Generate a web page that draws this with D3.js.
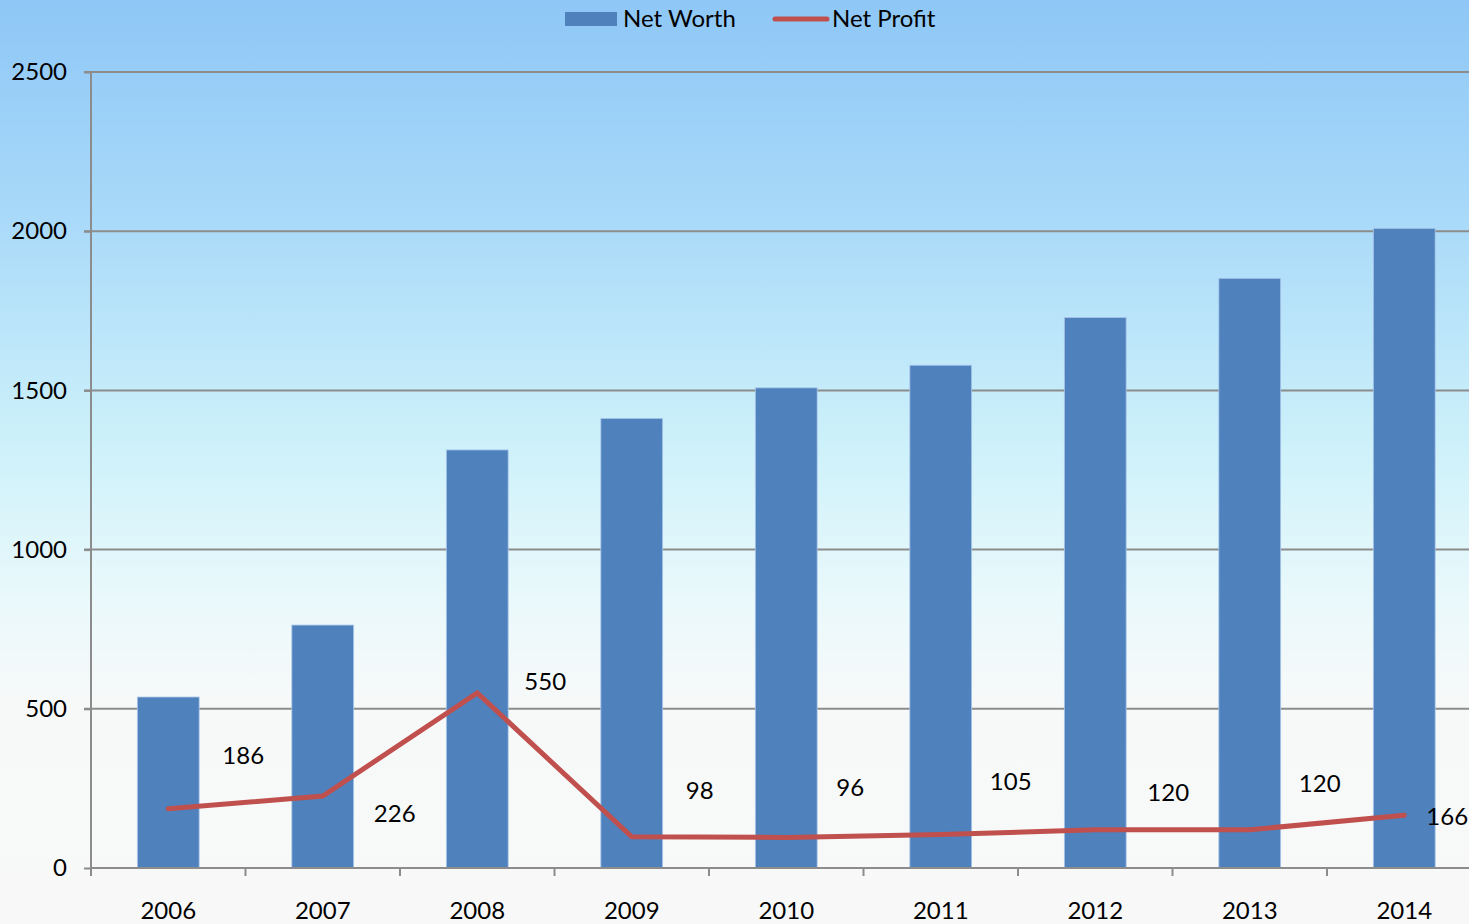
<!DOCTYPE html>
<html>
<head>
<meta charset="utf-8">
<script src="https://cdn.jsdelivr.net/npm/d3@7"></script>
<style>
  html, body { margin: 0; padding: 0; overflow: hidden; }
  text { font-family: Lato, "Open Sans", sans-serif; }
</style>
</head>
<body>
<div id="chart-area"></div>
<script>
const years = ["2006", "2007", "2008", "2009", "2010", "2011", "2012", "2013", "2014"];
const netWorth = [537, 763, 1313, 1412, 1508, 1579, 1729, 1852, 2009];
const netProfit = [186, 226, 550, 98, 96, 105, 120, 120, 166];
const yTicks = [0, 500, 1000, 1500, 2000, 2500];
// label nudges (dx, dy) the way the original placed them
const labelDx = [75, 72, 68, 68, 64, 70, 73, 70, 43];
const labelDy = [-53, 18, -11, -46, -49, -53, -37, -46, 2];

let W = 1469, H = 924;
let margin = { left: 91, top: 72, bottom: 56 };
let plotH = H - margin.top - margin.bottom;
let bandStep = 154.5;

let svg = d3.select("#chart-area")
  .append("svg")
    .attr("width", W)
    .attr("height", H);

// background gradient
let grad = svg.append("defs").append("linearGradient")
    .attr("id", "bg")
    .attr("x1", 0).attr("y1", 0).attr("x2", 0).attr("y2", 1);
[["0", "#8ec7f6"], ["0.22", "#a7d8f9"], ["0.48", "#cdf1fa"], ["0.65", "#eaf9fb"], ["0.76", "#f7f9f9"], ["1", "#f8f8f8"]]
  .forEach(s => grad.append("stop").attr("offset", s[0]).attr("stop-color", s[1]));
svg.append("rect").attr("width", W).attr("height", H).attr("fill", "url(#bg)");

let x = d3.scaleBand()
    .domain(years)
    .range([margin.left, margin.left + bandStep * years.length])
    .paddingInner(0.6)
    .paddingOuter(0.3);

let y = d3.scaleLinear()
    .domain([0, 2500])
    .range([margin.top + plotH, margin.top]);

// gridlines
svg.append("g")
  .selectAll("line")
  .data(yTicks.filter(d => d > 0))
  .enter().append("line")
    .attr("x1", margin.left - 7)
    .attr("x2", W)
    .attr("y1", d => y(d))
    .attr("y2", d => y(d))
    .attr("stroke", "#8c8c8c")
    .attr("stroke-width", 2);

// bars
svg.append("g")
  .selectAll("rect")
  .data(netWorth)
  .enter().append("rect")
    .attr("x", (d, i) => x(years[i]))
    .attr("y", d => y(d))
    .attr("width", x.bandwidth())
    .attr("height", d => y(0) - y(d))
    .attr("fill", "#4f81bd")
    .attr("stroke", "#a9c6ea")
    .attr("stroke-width", 0.8);

// y axis
let yAxis = svg.append("g")
    .attr("transform", `translate(${margin.left}, 0)`)
    .call(d3.axisLeft(y).tickValues(yTicks).tickFormat(d3.format("d")).tickSize(7).tickPadding(17));
yAxis.select(".domain").attr("stroke", "#8c8c8c").attr("stroke-width", 2).attr("d", `M0,${y(0)}V${y(2500)}`);
yAxis.selectAll(".tick line").attr("stroke", "#8c8c8c").attr("stroke-width", 2);
yAxis.selectAll("text")
    .attr("font-size", "24px")
    .attr("fill", "#000")
    .style("font-family", "Lato, sans-serif");

// x axis with ticks between categories
let xAxis = svg.append("g")
    .attr("transform", `translate(0, ${y(0)})`);
xAxis.append("line")
    .attr("x1", margin.left).attr("x2", W)
    .attr("stroke", "#8c8c8c").attr("stroke-width", 2);
xAxis.selectAll(".sep")
  .data(d3.range(years.length + 1))
  .enter().append("line")
    .attr("class", "sep")
    .attr("x1", i => margin.left + i * bandStep)
    .attr("x2", i => margin.left + i * bandStep)
    .attr("y1", 0).attr("y2", 8)
    .attr("stroke", "#8c8c8c").attr("stroke-width", 2);
xAxis.selectAll(".lbl")
  .data(years)
  .enter().append("text")
    .attr("class", "lbl")
    .attr("x", d => x(d) + x.bandwidth() / 2)
    .attr("y", 51)
    .attr("text-anchor", "middle")
    .attr("font-size", "24px")
    .text(d => d);

// profit line
let cx = i => x(years[i]) + x.bandwidth() / 2;
let line = d3.line()
    .x((d, i) => cx(i))
    .y(d => y(d));
svg.append("path")
    .datum(netProfit)
    .attr("d", line)
    .attr("fill", "none")
    .attr("stroke", "#c0504d")
    .attr("stroke-width", 5)
    .attr("stroke-linecap", "round")
    .attr("stroke-linejoin", "miter");

svg.append("g")
  .selectAll("text")
  .data(netProfit)
  .enter().append("text")
    .attr("x", (d, i) => cx(i) + labelDx[i])
    .attr("y", (d, i) => y(d) + labelDy[i] + 8)
    .attr("text-anchor", "middle")
    .attr("font-size", "24px")
    .text(d => d);

// legend
let legend = svg.append("g");
legend.append("rect")
    .attr("x", 565).attr("y", 12).attr("width", 52).attr("height", 14)
    .attr("fill", "#4f81bd");
legend.append("text")
    .attr("x", 623).attr("y", 27).attr("font-size", "24px")
    .text("Net Worth");
legend.append("line")
    .attr("x1", 775).attr("x2", 827).attr("y1", 19).attr("y2", 19)
    .attr("stroke", "#c0504d").attr("stroke-width", 5).attr("stroke-linecap", "round");
legend.append("text")
    .attr("x", 832).attr("y", 27).attr("font-size", "24px")
    .text("Net Profit");
</script>
</body>
</html>
